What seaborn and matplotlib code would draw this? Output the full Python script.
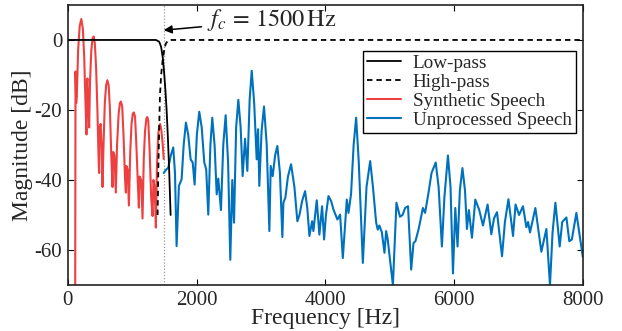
import matplotlib
matplotlib.use("Agg")
import matplotlib.pyplot as plt
import seaborn as sns
import pandas as pd

# ---------------- data ----------------
lowpass_f = [0, 1370, 1420, 1450, 1475, 1495, 1515, 1535, 1555, 1576, 1597]
lowpass_db = [0, 0, -0.5, -2, -5, -9, -14, -20, -28, -38, -50]

highpass_f = [1395, 1405, 1420, 1431, 1450, 1472, 1500, 1524, 1560, 1600, 8000]
highpass_db = [-50, -38, -25, -16, -10, -6, -2.5, -1, -0.1, 0, 0]

synth_f = [115, 120, 130, 140, 160, 185, 210, 235, 255, 275, 290, 296, 305, 320, 332,
           345, 365, 385, 403, 420, 440, 460, 480, 487, 495, 510, 525, 539, 555, 575,
           595, 615, 635, 655, 675, 695, 705, 725, 746, 765, 790, 810, 825, 845, 865,
           890, 902, 910, 930, 949, 970, 990, 1010, 1027, 1045, 1065, 1090, 1104, 1115,
           1140, 1161, 1180, 1200, 1220, 1234, 1250, 1270, 1295, 1317, 1330, 1350, 1368,
           1385, 1405, 1420, 1435, 1455, 1475, 1490]
synth_db = [-72, -9, -18, -16, -3, 4, 6, 3, -5, -18, -27, -13, -11, -20, -25,
            -12, -3, 0.5, 1, -1, -8, -20, -35, -38, -25, -24, -30, -42, -30, -18,
            -13, -11.5, -13, -20, -33, -42, -32, -33, -43.6, -30, -21, -18, -17.6, -19, -27,
            -40, -43.6, -36, -37, -47.3, -32, -24, -21, -20.7, -22, -30, -42, -47.9, -39,
            -40, -51, -34, -26, -22.5, -22, -23, -31, -45, -50.3, -40, -42, -53.6,
            -36, -27, -24.5, -24, -26, -30, -34]

speech_f = [1490, 1530, 1560, 1600, 1638, 1665, 1690, 1726, 1768, 1800, 1835, 1870, 1908,
            1940, 1970, 2005, 2042, 2080, 2120, 2150, 2182, 2215, 2244, 2280, 2313, 2338,
            2379, 2415, 2452, 2490, 2524, 2555, 2582, 2615, 2649, 2685, 2716, 2753, 2789,
            2825, 2857, 2895, 2934, 2955, 2975, 3010, 3048, 3090, 3131, 3152, 3183, 3220,
            3255, 3295, 3333, 3349, 3380, 3420, 3468, 3520, 3566, 3600, 3640, 3686, 3720,
            3753, 3795, 3815, 3867, 3908, 3950, 3981, 4010, 4049, 4090, 4126, 4188, 4230,
            4272, 4334, 4360, 4400, 4440, 4479, 4520, 4583, 4640, 4697, 4740, 4790, 4815,
            4840, 4878, 4919, 4945, 4970, 5000, 5050, 5105, 5160, 5200, 5240, 5285, 5334,
            5370, 5400, 5450, 5516, 5550, 5600, 5650, 5715, 5760, 5811, 5850, 5905, 5945,
            5983, 6019, 6054, 6090, 6130, 6170, 6200, 6230, 6278, 6330, 6390, 6449, 6521,
            6579, 6620, 6667, 6745, 6790, 6845, 6916, 6955, 7010, 7071, 7123, 7150, 7180,
            7263, 7356, 7434, 7490, 7530, 7574, 7641, 7680, 7745, 7790, 7830, 7900, 8000]
speech_db = [-38, -37, -36.5, -33, -30.7, -38, -58.9, -41.7, -39.8, -30, -23.6, -27, -34.1,
             -35, -41.3, -27, -20.5, -25, -35, -37, -49.9, -30, -22.2, -30, -44.1, -39.6,
             -48.6, -30, -21.5, -35, -62.8, -40, -52.2, -25, -17.1, -25, -38.9, -28.2, -37.4,
             -17, -8.8, -18, -34.1, -25.5, -41.7, -26, -19, -30, -54.6, -36, -38.9, -33,
             -30.3, -38, -56.3, -46.5, -45, -39, -35.5, -42, -51.8, -49.9, -46, -43.2, -48,
             -56, -51.8, -54.6, -45.8, -55.6, -47.5, -57, -50, -44.6, -46, -48.4, -51.3, -49.9,
             -62.3, -45.6, -49.4, -44, -30, -22.2, -35, -63.7, -42, -34.6, -42, -52.2, -54.2,
             -53, -54.9, -60.8, -54.6, -57, -62, -70, -46.5, -50.5, -50, -48, -47.5, -65.6,
             -58, -57.5, -54, -48, -49.4, -44, -38, -35, -42, -59, -45, -33, -42,
             -66.7, -48, -59, -43, -36.6, -43, -54, -48.6, -56.5, -45.6, -48.5, -53, -47,
             -55.5, -51, -49.2, -61.8, -52, -45.5, -56, -47, -50, -47.5, -53.5, -52, -55,
             -48, -60.5, -54, -70, -55, -46.5, -59, -52, -50.7, -57.5, -57, -49.4, -62]

x_ticks = [0, 2000, 4000, 6000, 8000]
y_ticks = [-60, -40, -20, 0]
cutoff_hz = 1500
labels = ["Low-pass", "High-pass", "Synthetic Speech", "Unprocessed Speech"]

# ---------------- style ----------------
sns.set_theme(style="ticks")
plt.rcParams["font.family"] = ["Liberation Serif", "DejaVu Serif"]
plt.rcParams["mathtext.fontset"] = "stix"

fig = plt.figure(figsize=(6.22, 3.31), dpi=100)
ax = fig.add_axes([0.109, 0.139, 0.828, 0.846])

red = "#EE4040"
blue = "#0072BD"

ax.axvline(cutoff_hz, color="#999999", ls=(0, (1, 1.5)), lw=0.9, zorder=1)

sns.lineplot(x=synth_f, y=synth_db, ax=ax, color=red, lw=1.5, sort=False,
             estimator=None, label=labels[2], zorder=2)
sns.lineplot(x=speech_f, y=speech_db, ax=ax, color=blue, lw=1.5, sort=False,
             estimator=None, label=labels[3], zorder=2)
sns.lineplot(x=lowpass_f, y=lowpass_db, ax=ax, color="black", lw=1.3, sort=False,
             estimator=None, label=labels[0], zorder=3)
sns.lineplot(x=highpass_f, y=highpass_db, ax=ax, color="black", lw=1.3, sort=False,
             estimator=None, label=labels[1], zorder=3, linestyle=(0, (3, 2.2)))

ax.set_xlim(0, 8000)
ax.set_ylim(-70, 10)
ax.set_xticks(x_ticks)
ax.set_yticks(y_ticks)
ax.set_xticklabels([str(t) for t in x_ticks], fontsize=15)
ax.set_yticklabels([str(t) for t in y_ticks], fontsize=15)
ax.tick_params(direction="in", length=4, width=0.8, top=True, right=True, color="black",
               pad=4)
ax.set_xlabel("Frequency [Hz]", fontsize=17, labelpad=-1)
ax.set_ylabel("Magnitude [dB]", fontsize=17, labelpad=1)
for s in ax.spines.values():
    s.set_color("#222222")
    s.set_linewidth(1.2)

ax.annotate(r"$f_c\, =\, 1500\,\mathrm{Hz}$", xy=(1490, 2.8), xytext=(2170, 5.6),
            fontsize=17.5, va="center", ha="left",
            arrowprops=dict(arrowstyle="-|>", color="black", lw=1.1,
                            shrinkA=2, shrinkB=0, mutation_scale=12))

h, l = ax.get_legend_handles_labels()
order = [l.index(n) for n in labels]
leg = ax.legend([h[i] for i in order], [l[i] for i in order], loc="upper right",
                bbox_to_anchor=(0.986, 0.836), borderaxespad=0, fontsize=13.8,
                frameon=True, fancybox=False, edgecolor="black", framealpha=1,
                handlelength=1.8, labelspacing=0.08, borderpad=0.2, handletextpad=0.6)
leg.get_frame().set_linewidth(1.0)

fig.savefig("out.png", dpi=100)
